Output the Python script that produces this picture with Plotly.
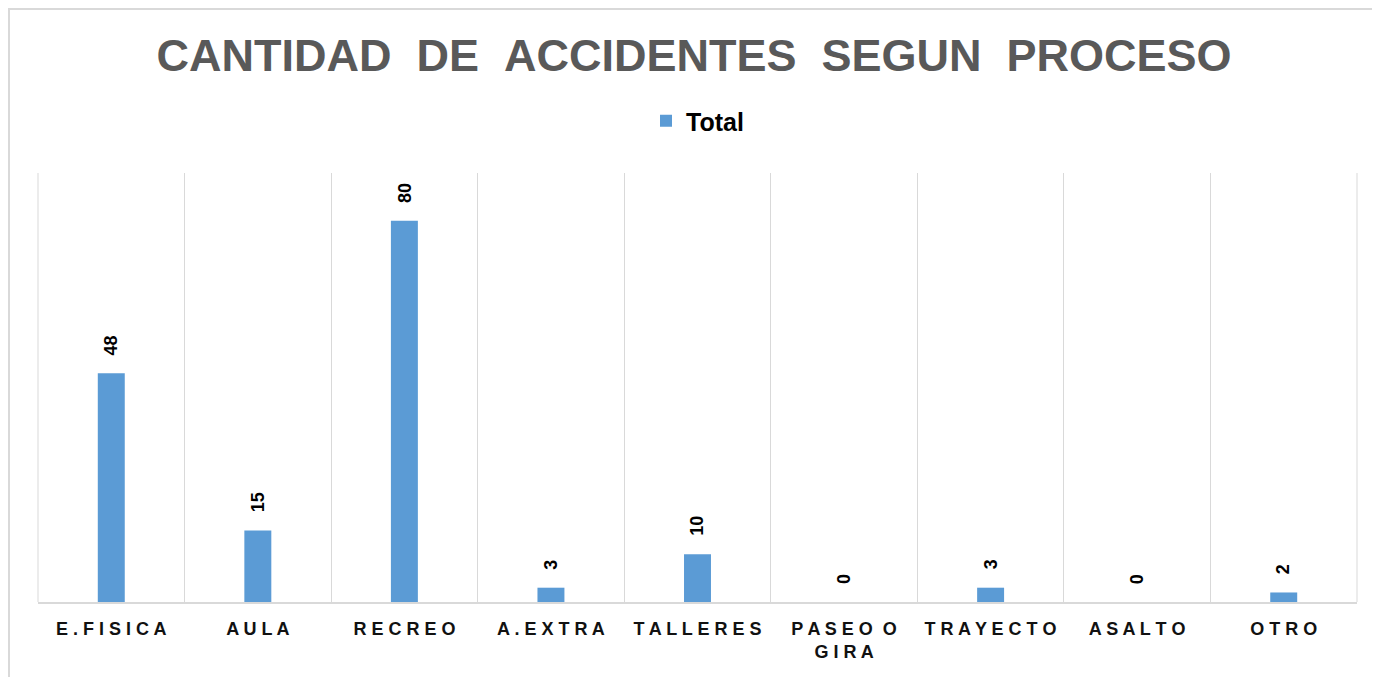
import plotly.graph_objects as go

categories = ["E.FISICA", "AULA", "RECREO", "A.EXTRA", "TALLERES", "PASEO O GIRA", "TRAYECTO", "ASALTO", "OTRO"]
values = [48, 15, 80, 3, 10, 0, 3, 0, 2]
tick_labels = ["E.FISICA", "AULA", "RECREO", "A.EXTRA", "TALLERES", "PASEO O<br>GIRA", "TRAYECTO", "ASALTO", "OTRO"]
series_name = "Total"
title_text = "CANTIDAD DE ACCIDENTES SEGUN PROCESO"


def spaced(s):
    # emulate letter spacing with spaces between letters
    parts = s.split("<br>")
    out = []
    for p in parts:
        words = p.split(" ")
        out.append(" \u00a0".join(" ".join(list(w)) for w in words))
    return "<br>".join(out)


FONT = "Liberation Sans, Arial, sans-serif"
W, H = 1372, 669
L, R, T, B = 30, 23, 165, 75
PW, PH = W - L - R, H - T - B

fig = go.Figure()
fig.add_trace(go.Bar(
    x=categories,
    y=values,
    name=series_name,
    marker=dict(color="#5b9bd5", line=dict(width=0)),
    showlegend=True,
))

for c, v in zip(categories, values):
    fig.add_annotation(
        x=c, y=v, xref="x", yref="y",
        text=str(v), textangle=-90,
        showarrow=False, yanchor="bottom", xanchor="center",
        yshift=16,
        font=dict(family=FONT, size=18, color="#000000", weight="bold"),
    )

title_disp = "\u00a0\u00a0".join(title_text.split(" "))

shapes = [dict(
    type="rect", xref="paper", yref="paper",
    x0=-(L - 1) / PW, x1=1.2, y0=-0.3, y1=(PH + T - 1) / PH,
    line=dict(color="#d9d9d9", width=2), fillcolor="rgba(0,0,0,0)", layer="below",
)]
# outer category boundary gridlines
for xb in (0, 1):
    shapes.append(dict(
        type="line", xref="paper", yref="paper", x0=xb, x1=xb, y0=0, y1=1,
        line=dict(color="#d9d9d9", width=1), layer="below",
    ))

fig.update_layout(
    width=W, height=H,
    margin=dict(l=L, r=R, t=T, b=B),
    paper_bgcolor="white", plot_bgcolor="white",
    bargap=0.816,
    title=dict(
        text=title_disp, x=0.5, xanchor="center", xref="container",
        y=1 - 47 / H, yref="container", yanchor="middle",
        font=dict(family=FONT, size=45, color="#595959", weight="bold"),
    ),
    legend=dict(
        orientation="h", x=0.5, xanchor="center", y=(T + PH - 113) / PH, yanchor="middle",
        font=dict(family=FONT, size=25, color="#000000", weight="bold"),
        bgcolor="rgba(0,0,0,0)", itemwidth=30,
    ),
    xaxis=dict(
        type="category",
        tickmode="array", tickvals=categories, ticktext=[spaced(t) for t in tick_labels],
        tickson="boundaries", ticks="",
        showgrid=True, gridcolor="#d9d9d9", gridwidth=1,
        showline=True, linecolor="#d9d9d9", linewidth=2,
        tickfont=dict(family=FONT, size=18, color="#111111", weight="bold"),
        ticklabelstandoff=9,
        fixedrange=True,
    ),
    yaxis=dict(
        range=[0, 90], visible=False, showgrid=False, zeroline=False, fixedrange=True,
    ),
    shapes=shapes,
)

fig.write_html("out.html")
